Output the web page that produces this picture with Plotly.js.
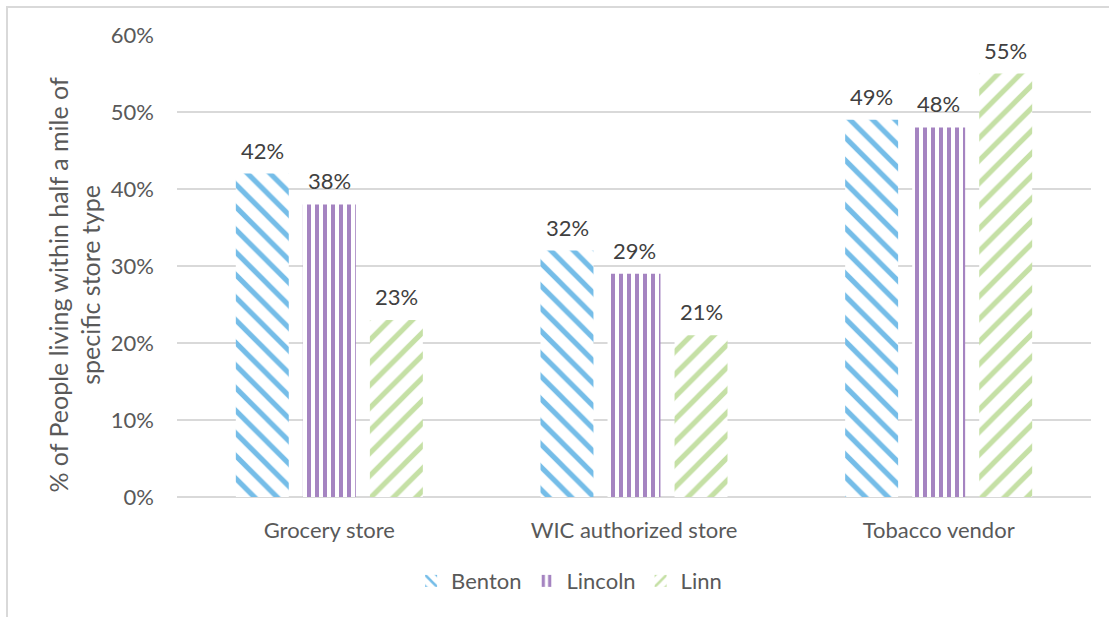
<!DOCTYPE html>
<html>
<head>
<meta charset="utf-8">
<script src="https://cdn.plot.ly/plotly-3.0.1.min.js"></script>
<style>
  html, body { margin: 0; padding: 0; background: #fff; }
  #frame { position: absolute; left: 6px; top: 6px; width: 1120px; height: 640px;
           border-left: 2px solid #d9d9d9; border-top: 2px solid #d9d9d9; pointer-events: none; }
  #chart { width: 1109px; height: 617px; }
</style>
</head>
<body>
<div id="chart"></div>
<div id="frame"></div>
<script>
const categories = ["Grocery store", "WIC authorized store", "Tobacco vendor"];
const seriesNames = ["Benton", "Lincoln", "Linn"];
const benton = [0.42, 0.32, 0.49];
const lincoln = [0.38, 0.29, 0.48];
const linn = [0.23, 0.21, 0.55];
const yTicks = [0, 0.1, 0.2, 0.3, 0.4, 0.5, 0.6];

const styles = [
  {color: "#75bde8", shape: "\\", size: 16, solidity: 0.32},
  {color: "#a584c1", shape: "|", size: 8, solidity: 0.5},
  {color: "#c5e0a5", shape: "/", size: 16, solidity: 0.32}
];
const values = [benton, lincoln, linn];

const font = "Lato, 'Open Sans', sans-serif";
const slotPx = 67; // pixel offset of each series within a group (label placement)

const traces = values.map((v, i) => ({
  type: "bar",
  name: seriesNames[i],
  x: categories,
  y: v,
  marker: {
    color: styles[i].color,
    line: {width: 0},
    pattern: {shape: styles[i].shape, fgcolor: styles[i].color, bgcolor: "#ffffff",
              size: styles[i].size, solidity: styles[i].solidity, fillmode: "replace"}
  },
  hoverinfo: "skip"
}));

const labelAnnotations = [];
values.forEach((v, i) => {
  v.forEach((val, j) => {
    labelAnnotations.push({
      x: categories[j], y: val, xref: "x", yref: "y",
      text: Math.round(val * 100) + "%",
      xshift: (i - 1) * slotPx, yshift: 8,
      xanchor: "center", yanchor: "bottom", showarrow: false,
      font: {family: font, size: 22, color: "#404040"}
    });
  });
});

const layout = {
  width: 1109, height: 617,
  margin: {l: 177, r: 18, t: 35, b: 120},
  paper_bgcolor: "#ffffff",
  plot_bgcolor: "#ffffff",
  barmode: "group",
  bargap: 0.34,
  bargroupgap: 0.21,
  font: {family: font, size: 22, color: "#595959"},
  showlegend: true,
  legend: {orientation: "h", x: 0.429, xanchor: "center", y: -0.182, yanchor: "middle",
           font: {family: font, size: 22, color: "#595959"}, itemwidth: 30, traceorder: "normal"},
  xaxis: {showgrid: false, showline: false, ticks: "", ticklabelstandoff: 18,
          tickfont: {family: font, size: 22, color: "#595959"}},
  yaxis: {range: [0, 0.6], tickvals: yTicks, tickformat: ".0%", showgrid: true,
          gridcolor: "#d9d9d9", gridwidth: 1.5, zeroline: true, zerolinecolor: "#d9d9d9",
          zerolinewidth: 1.5, showline: false, ticks: "", ticklabelstandoff: 22,
          tickfont: {family: font, size: 22, color: "#595959"}},
  annotations: labelAnnotations.concat([{
    text: "% of People living within half a mile of<br>specific store type",
    xref: "paper", yref: "paper", x: -0.112, y: 0.459, xanchor: "center", yanchor: "middle",
    textangle: -90, showarrow: false,
    font: {family: font, size: 25, color: "#595959"}
  }])
};

Plotly.newPlot("chart", traces, layout, {displayModeBar: false, staticPlot: true});
</script>
</body>
</html>
